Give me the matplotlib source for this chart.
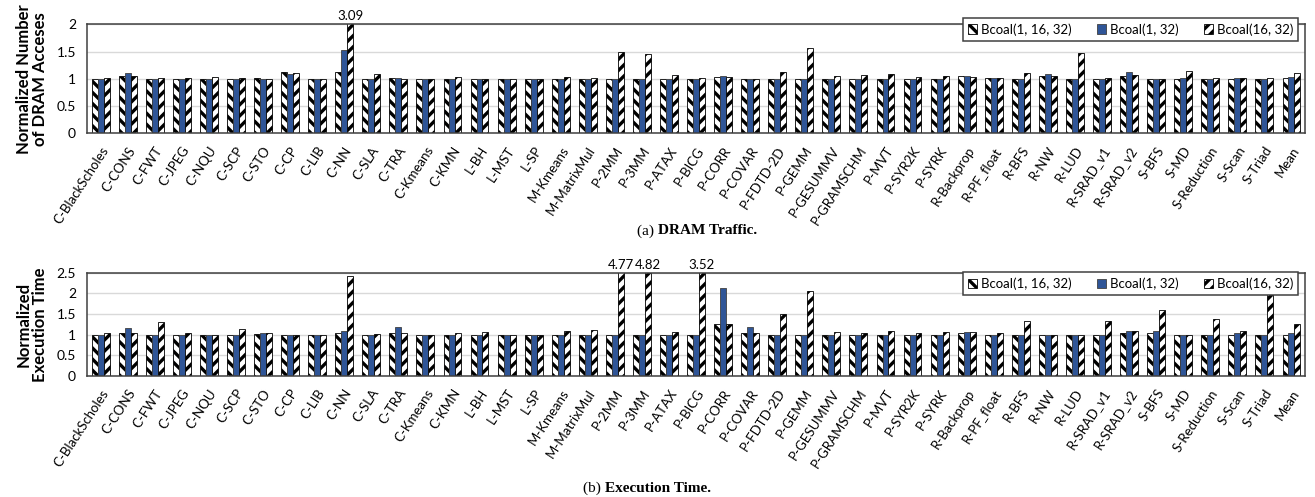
import numpy as np
import matplotlib
matplotlib.use("Agg")
import matplotlib.pyplot as plt

plt.rcParams['font.family'] = ['Lato', 'DejaVu Sans']
plt.rcParams['hatch.linewidth'] = 2.4

# benchmarks
cats = ['C-BlackScholes', 'C-CONS', 'C-FWT', 'C-JPEG', 'C-NQU', 'C-SCP', 'C-STO', 'C-CP',
        'C-LIB', 'C-NN', 'C-SLA', 'C-TRA', 'C-Kmeans', 'C-KMN', 'L-BH', 'L-MST', 'L-SP',
        'M-Kmeans', 'M-MatrixMul', 'P-2MM', 'P-3MM', 'P-ATAX', 'P-BICG', 'P-CORR', 'P-COVAR',
        'P-FDTD-2D', 'P-GEMM', 'P-GESUMMV', 'P-GRAMSCHM', 'P-MVT', 'P-SYR2K', 'P-SYRK',
        'R-Backprop', 'R-PF_float', 'R-BFS', 'R-NW', 'R-LUD', 'R-SRAD_v1', 'R-SRAD_v2',
        'S-BFS', 'S-MD', 'S-Reduction', 'S-Scan', 'S-Triad', 'Mean']
series = ['Bcoal(1, 16, 32)', 'Bcoal(1, 32)', 'Bcoal(16, 32)']

# (a) DRAM traffic
dram_a = [1.00, 1.06, 1.00, 1.00, 1.00, 1.00, 1.01, 1.12, 1.00, 1.13, 1.00, 1.01, 1.00, 1.00,
          1.00, 1.00, 1.00, 1.00, 1.00, 1.00, 1.00, 1.00, 1.00, 1.03, 1.00, 1.00, 1.00, 1.00,
          1.00, 1.00, 1.00, 1.00, 1.05, 1.02, 1.00, 1.05, 1.00, 1.00, 1.06, 1.00, 1.00, 1.00,
          1.00, 1.00, 1.02]
dram_b = [1.00, 1.11, 1.00, 1.00, 1.00, 1.00, 1.00, 1.09, 1.00, 1.53, 1.00, 1.01, 1.00, 1.00,
          1.00, 1.00, 1.00, 1.00, 1.00, 1.00, 1.00, 1.00, 1.00, 1.05, 1.00, 1.00, 1.00, 1.00,
          1.00, 1.00, 1.00, 1.00, 1.05, 1.02, 1.00, 1.08, 1.00, 1.00, 1.13, 1.00, 1.02, 1.00,
          1.02, 1.00, 1.03]
dram_c = [1.02, 1.05, 1.01, 1.02, 1.04, 1.02, 1.00, 1.11, 1.00, 3.09, 1.08, 1.00, 1.00, 1.04,
          1.00, 1.00, 1.00, 1.03, 1.02, 1.49, 1.46, 1.07, 1.01, 1.03, 1.00, 1.13, 1.57, 1.06,
          1.07, 1.09, 1.04, 1.05, 1.04, 1.02, 1.10, 1.05, 1.48, 1.02, 1.07, 1.00, 1.15, 1.02,
          1.02, 1.01, 1.10]

# (b) execution time
exec_a = [1.00, 1.04, 1.00, 1.00, 1.00, 1.00, 1.02, 1.00, 1.00, 1.03, 1.00, 1.05, 1.00, 1.00,
          1.00, 1.00, 1.00, 1.00, 1.00, 1.00, 1.00, 1.00, 1.00, 1.27, 1.03, 1.00, 1.00, 1.00,
          1.00, 1.00, 1.00, 1.00, 1.03, 1.00, 1.00, 1.00, 1.00, 1.00, 1.03, 1.05, 1.00, 1.00,
          1.00, 1.00, 1.00]
exec_b = [1.00, 1.15, 1.00, 1.00, 1.00, 1.00, 1.03, 1.00, 1.00, 1.10, 1.00, 1.18, 1.00, 1.00,
          1.00, 1.00, 1.00, 1.00, 1.00, 1.00, 1.00, 1.00, 1.00, 2.13, 1.19, 1.00, 1.00, 1.00,
          1.00, 1.00, 1.00, 1.00, 1.07, 1.00, 1.00, 1.00, 1.00, 1.00, 1.10, 1.08, 1.00, 1.00,
          1.05, 1.00, 1.04]
exec_c = [1.03, 1.03, 1.30, 1.03, 1.00, 1.14, 1.03, 1.00, 1.00, 2.43, 1.01, 1.04, 1.00, 1.04,
          1.07, 1.00, 1.00, 1.08, 1.12, 4.77, 4.82, 1.07, 3.52, 1.27, 1.03, 1.51, 2.05, 1.07,
          1.05, 1.09, 1.04, 1.06, 1.06, 1.05, 1.34, 1.00, 1.00, 1.33, 1.08, 1.60, 1.00, 1.39,
          1.09, 2.02, 1.27]

fig = plt.figure(figsize=(13.15, 4.97), dpi=100)
ax1 = fig.add_axes([0.0662, 0.7318, 0.9262, 0.2193])
ax2 = fig.add_axes([0.0662, 0.2435, 0.9262, 0.2078])

x = np.arange(len(cats))
w = 0.22
blue = '#2F5597'


def draw(ax, a, b, c, ymax, yticks, ylabel, leg_y):
    ax.bar(x - w, a, w, color='white', edgecolor='black', hatch='\\\\\\', linewidth=0.6,
           label=series[0])
    ax.bar(x, b, w, color=blue, edgecolor='#404040', linewidth=0.6, label=series[1])
    ax.bar(x + w, c, w, color='white', edgecolor='black', hatch='///', linewidth=0.6,
           label=series[2])
    ax.set_ylim(0, ymax)
    ax.set_xlim(-0.5, len(cats) - 0.5)
    ax.set_yticks(yticks)
    ax.set_yticklabels([('%g' % t) for t in yticks], fontsize=10)
    ax.yaxis.grid(True, color='#d9d9d9', linewidth=1)
    ax.set_axisbelow(True)
    ax.tick_params(length=0, pad=8)
    ax.set_xticks(x)
    ax.set_xticklabels(cats, rotation=57, ha='right', rotation_mode='anchor', fontsize=9.5)
    for s in ax.spines.values():
        s.set_color('#404040')
        s.set_linewidth(1.1)
    ax.set_ylabel(ylabel, fontsize=12, fontweight='bold', labelpad=6, linespacing=1.0)
    # values beyond the axis
    for i, v in enumerate(c):
        if v > ymax:
            ax.text(x[i] + w, ymax * 1.02, '%.2f' % v, ha='center', va='bottom', fontsize=9.5)
    leg = ax.legend(loc='upper right', bbox_to_anchor=(1.0, leg_y), ncol=3, fontsize=9.5,
                    frameon=True, fancybox=False, edgecolor='#404040', framealpha=1,
                    handlelength=0.7, handleheight=0.7, handletextpad=0.3, columnspacing=1.9,
                    borderpad=0.4)
    leg.get_frame().set_linewidth(1.1)


draw(ax1, dram_a, dram_b, dram_c, 2, [0, 0.5, 1, 1.5, 2],
     'Normalized Number\nof DRAM Acceses', 1.12)
draw(ax2, exec_a, exec_b, exec_c, 2.5, [0, 0.5, 1, 1.5, 2, 2.5],
     'Normalized\nExecution Time', 1.07)

serif = ['Liberation Serif', 'DejaVu Serif']
fig.text(0.5, 1 - 231 / 497, '(a) ', ha='right', va='center', fontsize=11, family=serif)
fig.text(0.5, 1 - 231 / 497, 'DRAM Traffic.', ha='left', va='center', fontsize=11,
         family=serif, fontweight='bold')
fig.text(0.46, 1 - 488 / 497, '(b) ', ha='right', va='center', fontsize=11, family=serif)
fig.text(0.46, 1 - 488 / 497, 'Execution Time.', ha='left', va='center', fontsize=11,
         family=serif, fontweight='bold')

fig.savefig('out.png', dpi=100)
